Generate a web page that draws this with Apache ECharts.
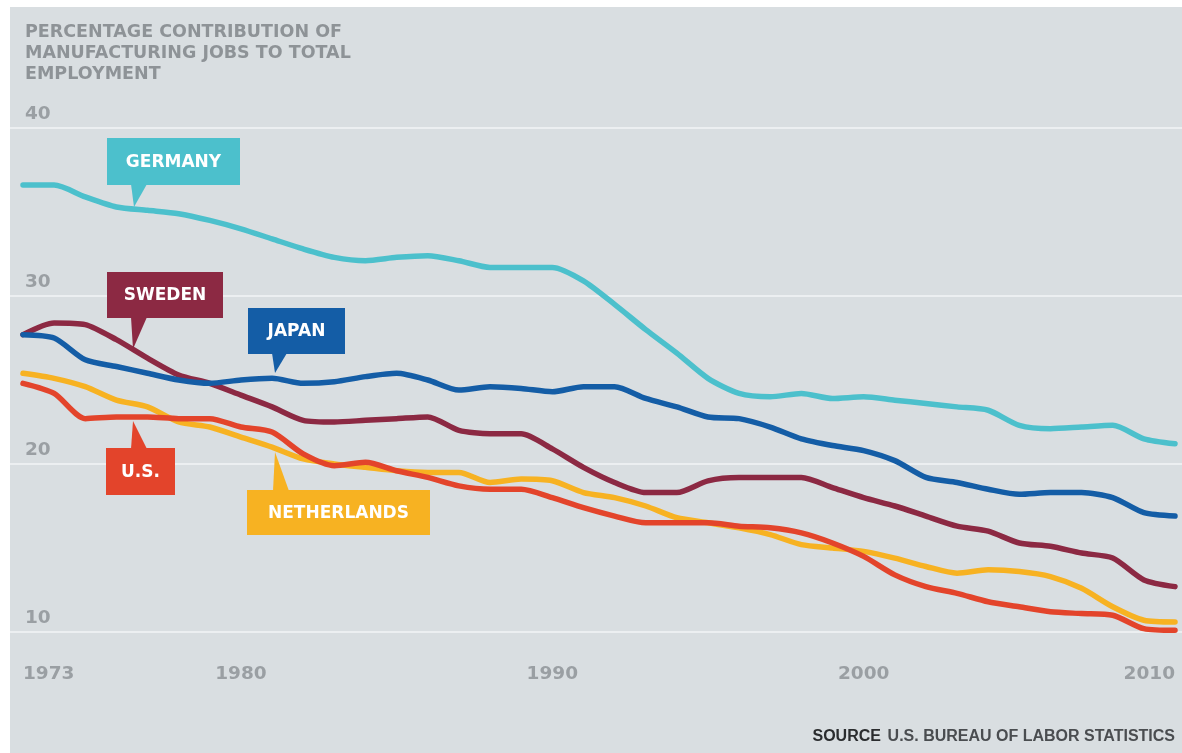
<!DOCTYPE html>
<html>
<head>
<meta charset="utf-8">
<script src="https://cdn.jsdelivr.net/npm/echarts@6/dist/echarts.min.js"></script>
<style>
  html, body { margin: 0; padding: 0; background: #fff; }
  #chart { width: 1182px; height: 753px; }
</style>
</head>
<body>
<div id="chart"></div>
<script>
const years = []
for (let y = 1973; y <= 2010; y++) years.push(y)

const xTicks = [1973, 1980, 1990, 2000, 2010]

const germany = [
  36.6, 36.6, 35.9, 35.3, 35.1, 34.9, 34.5, 34.0, 33.4, 32.8,
  32.3, 32.1, 32.3, 32.4, 32.1, 31.7, 31.7, 31.7, 30.9, 29.5,
  28.0, 26.6, 25.1, 24.2, 24.0, 24.2, 23.9, 24.0, 23.8, 23.6,
  23.4, 23.2, 22.3, 22.1, 22.2, 22.3, 21.5, 21.2
]
const japan = [
  27.7, 27.5, 26.2, 25.8, 25.4, 25.0, 24.8, 25.0, 25.1, 24.8,
  24.9, 25.2, 25.4, 25.0, 24.4, 24.6, 24.5, 24.3, 24.6, 24.6,
  23.9, 23.4, 22.8, 22.7, 22.2, 21.5, 21.1, 20.8, 20.2, 19.2,
  18.9, 18.5, 18.2, 18.3, 18.3, 18.0, 17.1, 16.9
]
const sweden = [
  27.7, 28.4, 28.3, 27.4, 26.3, 25.3, 24.8, 24.1, 23.4, 22.6,
  22.5, 22.6, 22.7, 22.8, 22.0, 21.8, 21.8, 20.9, 19.8, 18.9,
  18.3, 18.3, 19.0, 19.2, 19.2, 19.2, 18.6, 18.0, 17.5, 16.9,
  16.3, 16.0, 15.3, 15.1, 14.7, 14.4, 13.1, 12.7
]
const us = [
  24.8, 24.2, 22.7, 22.8, 22.8, 22.7, 22.7, 22.2, 21.9, 20.6,
  19.9, 20.1, 19.6, 19.2, 18.7, 18.5, 18.5, 18.0, 17.4, 16.9,
  16.5, 16.5, 16.5, 16.3, 16.2, 15.9, 15.3, 14.5, 13.4, 12.7,
  12.3, 11.8, 11.5, 11.2, 11.1, 11.0, 10.2, 10.1
]
const netherlands = [
  25.4, 25.1, 24.6, 23.8, 23.4, 22.5, 22.2, 21.6, 21.0, 20.3,
  20.0, 19.8, 19.6, 19.5, 19.5, 18.9, 19.1, 19.0, 18.3, 18.0,
  17.5, 16.8, 16.5, 16.2, 15.8, 15.2, 15.0, 14.8, 14.4, 13.9,
  13.5, 13.7, 13.6, 13.3, 12.6, 11.5, 10.7, 10.6
]

const colors = {
  germany: '#4cc0cc',
  japan: '#145da6',
  sweden: '#8c2943',
  us: '#e3442b',
  netherlands: '#f7b222'
}

const chart = echarts.init(document.getElementById('chart'))

function pairs(values) {
  return years.map((y, i) => [y, values[i]])
}

function lineSeries(name, values, color) {
  return {
    name: name,
    type: 'line',
    data: pairs(values),
    showSymbol: false,
    smooth: 0.25,
    clip: false,
    lineStyle: { color: color, width: 5.5, cap: 'round', join: 'round' },
    itemStyle: { color: color }
  }
}

// callout box with a little tail pointing to the line
function callout(text, color, box, tail) {
  return {
    type: 'group',
    z: 100,
    children: [
      { type: 'polygon', z: 100, shape: { points: tail }, style: { fill: color } },
      { type: 'rect', z: 100, shape: { x: box[0], y: box[1], width: box[2], height: box[3] }, style: { fill: color } },
      {
        type: 'text',
        z: 101,
        x: box[0] + box[2] / 2,
        y: box[1] + box[3] / 2 + 1,
        style: {
          text: text,
          fill: '#ffffff',
          font: 'bold 17px "DejaVu Sans"',
          align: 'center',
          verticalAlign: 'middle'
        }
      }
    ]
  }
}

const labelFont = '"DejaVu Sans", sans-serif'

chart.setOption({
  backgroundColor: '#d9dee1',
  animation: false,
  title: {
    text: 'PERCENTAGE CONTRIBUTION OF\nMANUFACTURING JOBS TO TOTAL\nEMPLOYMENT',
    left: 25,
    top: 22,
    padding: 0,
    textStyle: {
      fontFamily: labelFont,
      fontSize: 17.5,
      fontWeight: 'bold',
      color: '#8e9397',
      lineHeight: 21
    }
  },
  grid: { left: 10, right: 0, top: 128, bottom: 121 },
  xAxis: {
    type: 'value',
    min: 1973 - 13 / 31.14,
    max: 2010 + 7 / 31.14,
    axisLine: { show: false },
    axisTick: { show: false },
    splitLine: { show: false },
    axisLabel: {
      customValues: xTicks,
      margin: 33,
      fontFamily: labelFont,
      fontSize: 18.5,
      fontWeight: 'bold',
      color: '#9a9fa3',
      alignMinLabel: 'left',
      alignMaxLabel: 'right',
      formatter: v => String(v)
    }
  },
  yAxis: {
    type: 'value',
    min: 10,
    max: 40,
    interval: 10,
    axisLine: { show: false },
    axisTick: { show: false },
    splitLine: { lineStyle: { color: '#eceff1', width: 2 } },
    axisLabel: {
      inside: true,
      margin: 15,
      verticalAlign: 'bottom',
      padding: [0, 0, 4, 0],
      fontFamily: labelFont,
      fontSize: 18.5,
      fontWeight: 'bold',
      color: '#9a9fa3'
    }
  },
  series: [
    lineSeries('Germany', germany, colors.germany),
    lineSeries('Sweden', sweden, colors.sweden),
    lineSeries('Japan', japan, colors.japan),
    lineSeries('Netherlands', netherlands, colors.netherlands),
    lineSeries('U.S.', us, colors.us)
  ],
  graphic: [
    { type: 'rect', z: 100, shape: { x: 0, y: 0, width: 1182, height: 7 }, style: { fill: '#ffffff' } },
    { type: 'rect', z: 100, shape: { x: 0, y: 0, width: 10, height: 753 }, style: { fill: '#ffffff' } },
    callout('GERMANY', colors.germany, [107, 138, 133, 47], [[131, 184], [147, 184], [134, 207]]),
    callout('SWEDEN', colors.sweden, [107, 272, 116, 46], [[131, 317], [147, 317], [133, 349]]),
    callout('JAPAN', colors.japan, [248, 308, 97, 46], [[272, 353], [287, 353], [275, 373]]),
    callout('U.S.', colors.us, [106, 448, 69, 47], [[131, 449], [147, 449], [133, 421]]),
    callout('NETHERLANDS', colors.netherlands, [247, 490, 183, 45], [[273, 491], [289, 491], [275, 452]]),
    {
      type: 'text',
      z: 100,
      x: 1175,
      y: 737,
      style: {
        text: '{b|SOURCE}  {n|U.S. BUREAU OF LABOR STATISTICS}',
        align: 'right',
        verticalAlign: 'middle',
        rich: {
          b: { font: 'bold 16px "Liberation Sans Narrow", "Liberation Sans"', fill: '#2a2c2e' },
          n: { font: 'bold 16px "Liberation Sans Narrow", "Liberation Sans"', fill: '#4a4d50' }
        }
      }
    }
  ]
})
</script>
</body>
</html>
